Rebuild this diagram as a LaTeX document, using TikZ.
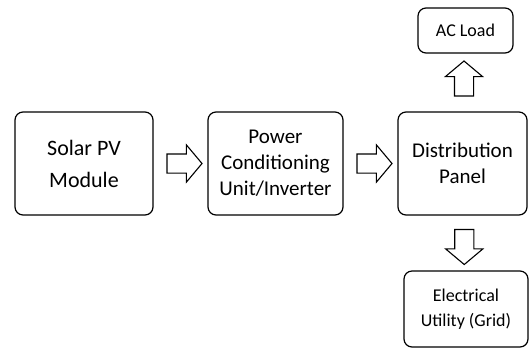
\documentclass[tikz,border=0pt]{standalone}
\usepackage{fontspec}
\setmainfont{Carlito}
\usetikzlibrary{shapes.arrows,calc}
\begin{document}
\begin{tikzpicture}[x=1pt,y=-1pt,
	box/.style={draw,rounded corners=8pt,line width=1.2pt,align=center,inner sep=0pt},
	bigtext/.style={font=\fontsize{21}{26}\selectfont},
	smalltext/.style={font=\fontsize{18}{25}\selectfont},
	hollow/.style={draw,single arrow,line width=1.1pt,inner sep=0pt,text height=18pt,text depth=0pt,minimum height=35pt,single arrow head extend=9pt,single arrow tip angle=100}]
				\useasboundingbox (0,0) rectangle (529,349);
				\def\h{103pt}
				\node[box,font=\fontsize{22}{32}\selectfont,minimum width=138pt,minimum height=\h] (pv) at (84,163.5) {Solar PV\\Module};
				\node[box,bigtext,minimum width=135pt,minimum height=\h] (pcu) at (275.5,163.5) {Power\\Conditioning\\Unit/Inverter};
				\node[box,bigtext,minimum width=129pt,minimum height=\h] (dist) at (462.5,163.5) {Distribution\\Panel};
				\node[box,smalltext,minimum width=95pt,minimum height=45pt] (ac) at (465.5,30.5) {AC Load};
				\node[box,smalltext,minimum width=124pt,minimum height=76pt] (grid) at (466,309) {Electrical\\Utility (Grid)};
				\node[hollow] (a1) at ($(pv.east)!.5!(pcu.west)$) {};
				\node[hollow] (a2) at ($(pcu.east)!.5!(dist.west)$) {};
				\node[hollow,rotate=90] (a3) at ($(dist.north)!.5!(ac.south)$) {};
				\node[hollow,rotate=-90] (a4) at ($(dist.south)!.5!(grid.north)$) {};
\end{tikzpicture}
\end{document}
